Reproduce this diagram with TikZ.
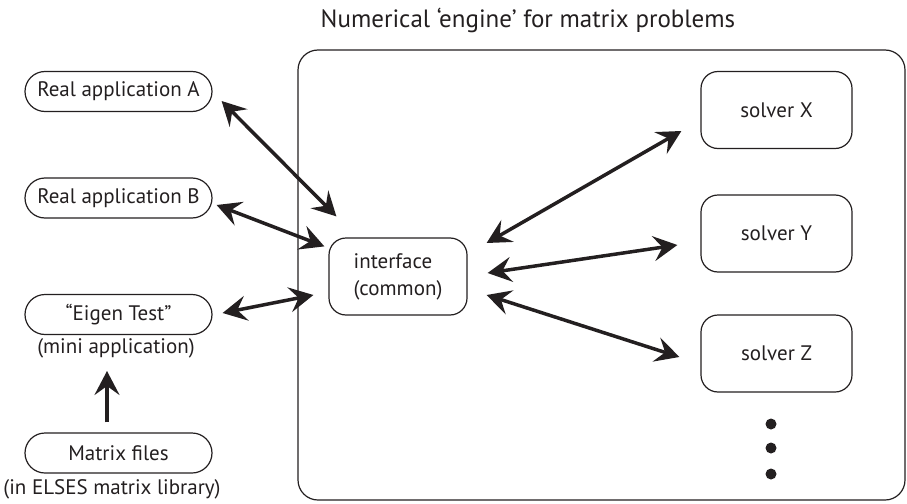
\documentclass[tikz,border=0pt]{standalone}
\usepackage{fontspec}
\setmainfont{PT Sans}
\usepackage{tikz}
\usetikzlibrary{positioning,arrows.meta,calc}
\definecolor{inkColor}{RGB}{35,31,32}

\tikzset{
    pill/.style={draw=inkColor, line width=1.2pt, rounded corners=20pt, minimum width=187pt, minimum height=40pt, inner sep=0pt, text=inkColor, font=\fontsize{21}{25}\selectfont},
    solverbox/.style={draw=inkColor, line width=1.2pt, rounded corners=17pt, minimum width=151pt, minimum height=77pt, inner sep=0pt, text=inkColor, font=\fontsize{21}{25}\selectfont},
    note/.style={inner sep=0pt, text=inkColor, font=\fontsize{21}{25}\selectfont},
    link/.style={{Stealth[length=24pt,width=25pt,inset=9pt]}-{Stealth[length=24pt,width=25pt,inset=9pt]}, line width=3.5pt, draw=inkColor},
    feed/.style={-{Stealth[length=24pt,width=25pt,inset=9pt]}, line width=3.5pt, draw=inkColor}
}

\begin{document}
\begin{tikzpicture}[x=1pt, y=-1pt]
    \useasboundingbox (0,0) rectangle (907,503);

    % engine frame and title
    \node[draw=inkColor, line width=1.2pt, rounded corners=20pt, minimum width=607pt, minimum height=450pt] (engine) at (601.5,275) {};
    \node[note, font=\fontsize{25}{29}\selectfont] (title) at (528,20) {Numerical ‘engine’ for matrix problems};

    % applications
    \node[pill] (appA) at (118.5,91.5) {Real application A};
    \node[pill] (appB) at (118.5,198) {Real application B};
    \node[pill] (eigen) at (118.5,314.5) {“Eigen Test”};
    \node[note] (mini) at (116,348) {(mini application)};
    \node[pill] (matfiles) at (118.5,453) {Matrix files};
    \node[note] (elses) at (112,489) {(in ELSES matrix library)};

    % interface and solvers
    \node[solverbox, minimum width=138pt, align=left, font=\fontsize{21}{27}\selectfont] (iface) at (398,276.5) {interface\\(common)};
    \node[solverbox] (solX) at (776.5,110) {solver X};
    \node[solverbox] (solY) at (776.5,233.5) {solver Y};
    \node[solverbox] (solZ) at (776.5,353.5) {solver Z};

    \foreach \yy in {424,448,474}
        \fill[inkColor] (771,\yy) circle (5.5pt);

    % connectors
    \draw[link] ($(appA.east)+(9,9.5)$) -- ($(iface.north west)+(8,-21)$);
    \draw[link] ($(appB.east)+(4,7)$) -- ($(iface.north west)+(-4,9)$);
    \draw[link] ($(eigen.east)+(10,-1.5)$) -- ($(iface.west)+(-15,18.5)$);
    \draw[feed] ($(matfiles.north)+(-11.5,-10)$) -- ($(mini.south)+(-9,13)$);

    \draw[link] ($(iface.east)+(19,-33.5)$) -- ($(solX.west)+(-19,21)$);
    \draw[link] ($(iface.east)+(20,-3.5)$) -- ($(solY.west)+(-23,11.5)$);
    \draw[link] ($(iface.east)+(19,18.5)$) -- ($(solZ.west)+(-21,3.5)$);
\end{tikzpicture}
\end{document}
